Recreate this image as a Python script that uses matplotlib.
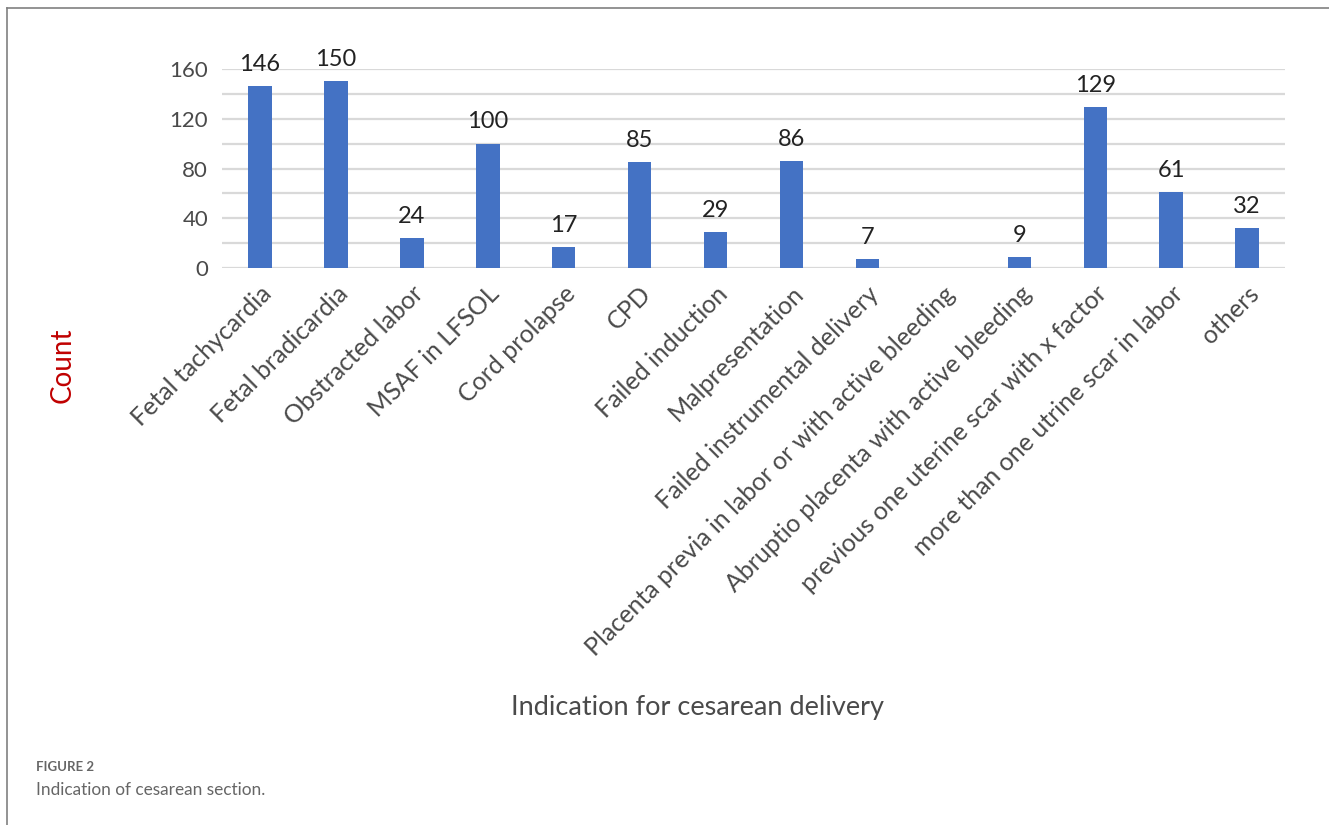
"""Bar chart of indications for cesarean delivery."""

import matplotlib.pyplot as plt
import numpy as np
from matplotlib.lines import Line2D

plt.switch_backend("Agg")
plt.rcParams["font.family"] = ["Lato", "DejaVu Sans"]

categories = [
    "Fetal tachycardia",
    "Fetal bradicardia",
    "Obstracted labor",
    "MSAF in LFSOL",
    "Cord prolapse",
    "CPD",
    "Failed induction",
    "Malpresentation",
    "Failed instrumental delivery",
    "Placenta previa in labor or with active bleeding",
    "Abruptio placenta with active bleeding",
    "previous one uterine scar with x factor",
    "more than one utrine scar in labor",
    "others",
]
counts = [146, 150, 24, 100, 17, 85, 29, 86, 7, 0, 9, 129, 61, 32]
y_ticks = [0, 40, 80, 120, 160]

text_color = "#4a4a4a"
bar_color = "#4472c4"
grid_color = "#d9d9d9"

fig = plt.figure(figsize=(13.29, 8.25), dpi=100)
ax = fig.add_axes([0.167, 0.675, 0.8, 0.2415])

x = np.arange(len(categories))
bars = ax.bar(x, counts, width=0.31, color=bar_color, zorder=3)
for rect, value in zip(bars, counts):
    if value == 0:
        continue
    ax.annotate(
        str(value),
        (rect.get_x() + rect.get_width() / 2, value),
        xytext=(0, 8),
        textcoords="offset points",
        ha="center",
        va="bottom",
        fontsize=17,
        color="#222222",
    )

ax.set_xlim(-0.5, len(categories) - 0.5)
ax.set_ylim(0, 160)
ax.set_yticks(y_ticks)
ax.set_yticks(np.arange(0, 161, 20), minor=True)
ax.grid(axis="y", which="both", color=grid_color, linewidth=1.6, zorder=0)
ax.tick_params(axis="y", which="both", length=0, pad=10, labelsize=16, labelcolor=text_color)
for spine in ax.spines.values():
    spine.set_visible(False)

ax.set_xticks(x)
ax.set_xticklabels(
    categories, rotation=45, ha="right", rotation_mode="anchor",
    fontsize=18, color=text_color,
)
ax.tick_params(axis="x", length=0, pad=10)

fig.text(0.047, 0.557, "Count", rotation=90, ha="center", va="center",
         fontsize=20, color="#c00000")
fig.text(0.525, 0.142, "Indication for cesarean delivery", ha="center",
         va="center", fontsize=19.5, color=text_color)
fig.text(0.027, 0.07, "FIGURE 2", ha="left", va="center", fontsize=9.5,
         color="#666666", fontweight="bold")
fig.text(0.027, 0.043, "Indication of cesarean section.", ha="left",
         va="center", fontsize=12.4, color="#666666")

# frame lines on top and left edge
fig.add_artist(Line2D([0.0053, 1.0], [0.9903, 0.9903], transform=fig.transFigure,
                      color="#808080", linewidth=1.2))
fig.add_artist(Line2D([0.0053, 0.0053], [0.0, 0.9903], transform=fig.transFigure,
                      color="#808080", linewidth=1.2))

fig.savefig("out.png", dpi=100)
plt.close(fig)
